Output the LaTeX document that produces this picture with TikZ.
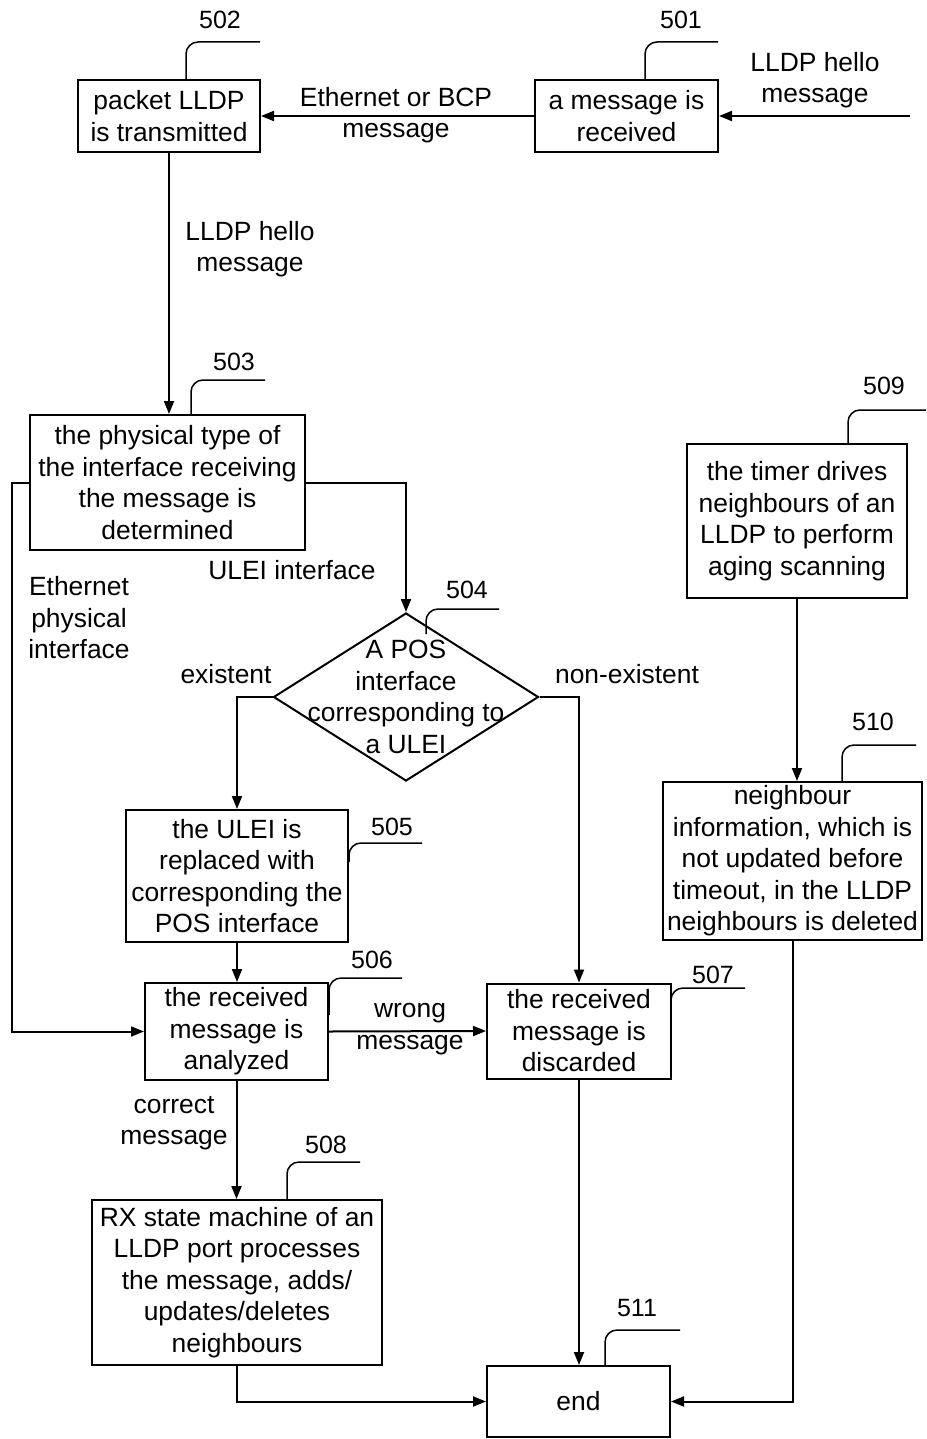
\documentclass[tikz,border=0pt]{standalone}
\usepackage{fontspec}
\setmainfont{Liberation Sans}
\usetikzlibrary{arrows.meta,shapes.geometric}
\begin{document}
\begin{tikzpicture}[x=1pt,y=-1pt,
  txt/.style={align=center, inner sep=0pt, font=\fontsize{26.4}{31.5}\selectfont},
  box/.style={txt, draw, line width=2pt},
  num/.style={inner sep=0pt, font=\fontsize{25}{30}\selectfont},
  flow/.style={line width=2pt, -{Triangle[length=13pt,width=10pt]}},
  leader/.style={line width=1.5pt, rounded corners=12pt}]
\useasboundingbox (0,0) rectangle (926,1439);

% process boxes
\node[box, minimum width=182, minimum height=72] (b502) at (169,116) {packet LLDP\\is transmitted};
\node[box, minimum width=183, minimum height=72] (b501) at (626.5,116) {a message is\\received};
\node[box, minimum width=275, minimum height=135] (b503) at (167.5,482.5) {the physical type of\\the interface receiving\\the message is\\determined};
\node[draw, diamond, line width=2pt, minimum width=265, minimum height=168, inner sep=0pt] (d504) at (406,697) {};
\node[txt] (t504) at (406,697) {A POS\\interface\\corresponding to\\a ULEI};
\node[box, minimum width=222, minimum height=132] (b505) at (237,876) {the ULEI is\\replaced with\\corresponding the\\POS interface};
\node[box, minimum width=183, minimum height=97] (b506) at (236.5,1031.5) {the received\\message is\\analyzed};
\node[box, minimum width=184, minimum height=95] (b507) at (579,1031) {the received\\message is\\discarded};
\node[box, minimum width=290, minimum height=165] (b508) at (237,1282.5) {RX state machine of an\\LLDP port processes\\the message, adds/\\updates/deletes\\neighbours};
\node[box, minimum width=220, minimum height=154] (b509) at (797,521) {the timer drives\\neighbours of an\\LLDP to perform\\aging scanning};
\node[box, minimum width=259, minimum height=158] (b510) at (792.5,861) {neighbour\\information, which is\\not updated before\\timeout, in the LLDP\\neighbours is deleted};
\node[box, minimum width=183, minimum height=71] (b511) at (578.5,1401.5) {end};

% entry point of the incoming message
\coordinate (in) at (910,116);

% connectors
\draw[flow] (in) -- (b501.east);
\draw[flow] (b501.west) -- (b502.east);
\draw[flow] (b502.south) -- (b502.south |- b503.north);
\draw[flow] (b503.west) -| (12,800) |- (b506.west);
\draw[flow] (b503.east) -| (d504.north);
\draw[flow] (d504.west) -| (b505.north);
\draw[flow] (d504.east) -| (b507.north);
\draw[flow] (b505.south) -- (b505.south |- b506.north);
\draw[flow] (b506.east) -- (b507.west);
\draw[flow] (b506.south) -- (b506.south |- b508.north);
\draw[flow] (b507.south) -- (b507.south |- b511.north);
\draw[flow] (b508.south) |- (b511.west);
\draw[flow] (b509.south) -- (b509.south |- b510.north);
\draw[flow] (b510.south) |- (b511.east);

% connector labels
\node[txt] (l1) at (815,80) {LLDP hello\\message};
\node[txt] (l2) at (396,115) {Ethernet or BCP\\message};
\node[txt] (l3) at (250,249) {LLDP hello\\message};
\node[txt] (l4) at (292,570) {ULEI interface};
\node[txt] (l5) at (79,618) {Ethernet\\physical\\interface};
\node[txt] (l6) at (226,674) {existent};
\node[txt] (l7) at (627,674) {non-existent};
\node[txt] (l8) at (410,1029) {wrong\\message};
\node[txt] (l9) at (174,1123) {correct\\message};

% reference numerals with their leader lines
\node[num] (n502) at (220,20) {502};
\draw[leader] (186,80) -- (186,42) -- (260,42);
\node[num] (n501) at (681,20) {501};
\draw[leader] (645,80) -- (645,42) -- (718,42);
\node[num] (n503) at (234,362) {503};
\draw[leader] (191,415) -- (191,380) -- (265,380);
\node[num] (n504) at (467,590) {504};
\draw[leader] (426,634) -- (426,609) -- (499,609);
\node[num] (n505) at (392,827) {505};
\draw[leader] (349,862) -- (349,843) -- (422,843);
\node[num] (n506) at (372,960) {506};
\draw[leader] (329,1015) -- (329,978) -- (402,978);
\node[num] (n507) at (713,975) {507};
\draw[leader] (671,1004) -- (671,988) -- (745,988);
\node[num] (n508) at (326,1145) {508};
\draw[leader] (287,1200) -- (287,1162) -- (360,1162);
\node[num] (n509) at (884,386) {509};
\draw[leader] (848,444) -- (848,410) -- (926,410);
\node[num] (n510) at (873,722) {510};
\draw[leader] (842,782) -- (842,745) -- (916,745);
\node[num] (n511) at (637,1308) {511};
\draw[leader] (605,1366) -- (605,1330) -- (680,1330);
\end{tikzpicture}
\end{document}
